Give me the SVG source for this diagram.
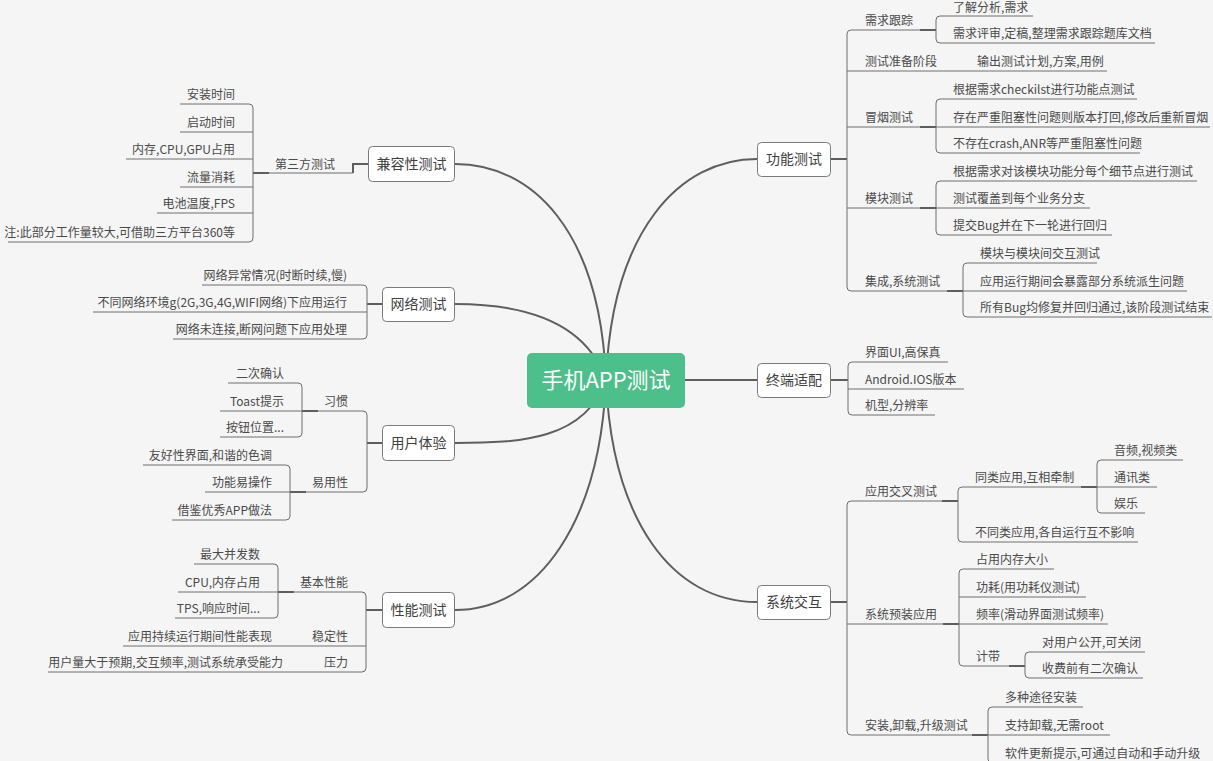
<svg xmlns="http://www.w3.org/2000/svg" width="1213" height="761" viewBox="0 0 1213 761">
<style>
.ln{fill:none;stroke:#6e6e6e;stroke-width:1}
.lk{fill:none;stroke:#5e5e5e;stroke-width:2}
.cv{fill:none;stroke:#5e5e5e;stroke-width:2}
.box{fill:#ffffff;stroke:#7a7a7a;stroke-width:1}
text{font-family:"Noto Sans CJK SC","Microsoft YaHei",sans-serif;font-size:12px;fill:#4a4a4a}
.tm{font-size:14px;text-anchor:middle;fill:#404040}
.r{text-anchor:end}
.root{font-size:22px;fill:#ffffff;text-anchor:middle}
</style>
<rect x="0" y="0" width="1213" height="761" fill="#f5f5f5"/>
<g id="connectors">
<path class="cv" d="M606,380 C612,230 680,159 757,159"/>
<path class="cv" d="M606,380 C600,230 532,164 455,164"/>
<path class="cv" d="M606,380 C585,320 520,304 455,304"/>
<path class="cv" d="M606,380 C585,440 520,443 455,443"/>
<path class="cv" d="M606,380 C600,520 540,610 455,610"/>
<path class="cv" d="M606,380 C612,520 672,602 757,602"/>
<path class="cv" d="M685,380 H757"/>
<!-- 功能测试 -->
<path class="lk" d="M830,159 H847"/>
<path class="ln" d="M936,30 H851 Q847,30 847,34 V287 Q847,291 851,291 H963 M847,71 H1107 M847,127 H936 M847,208 H936"/>
<path class="lk" d="M920,30 H936 M920,127 H936 M920,208 H936 M947,291 H963"/>
<path class="ln" d="M1033,16 H940 Q936,16 936,20 V39 Q936,43 940,43 H1155"/>
<path class="ln" d="M1137,99 H940 Q936,99 936,103 V149 Q936,153 940,153 H1140 M936,127 H1210"/>
<path class="ln" d="M1197,181 H940 Q936,181 936,185 V231 Q936,235 940,235 H1112 M936,208 H1090"/>
<path class="ln" d="M1097,263 H967 Q963,263 963,267 V313 Q963,317 967,317 H1212 M963,291 H1187"/>
<!-- 终端适配 -->
<path class="lk" d="M831,380 H848"/>
<path class="ln" d="M948,362 H852 Q848,362 848,366 V411 Q848,415 852,415 H935 M848,389 H964"/>
<!-- 系统交互 -->
<path class="lk" d="M830,602 H847"/>
<path class="ln" d="M958,501 H851 Q847,501 847,505 V731 Q847,735 851,735 H988 M847,624 H959"/>
<path class="lk" d="M942,501 H958 M943,624 H959 M972,735 H988"/>
<path class="ln" d="M1097,487 H962 Q958,487 958,491 V538 Q958,542 962,542 H1138"/>
<path class="lk" d="M1081,487 H1097"/>
<path class="ln" d="M1183,460 H1101 Q1097,460 1097,464 V509 Q1097,513 1101,513 H1145 M1097,487 H1157"/>
<path class="ln" d="M1054,569 H963 Q959,569 959,573 V662 Q959,666 963,666 H1025 M959,597 H1086 M959,624 H1108"/>
<path class="lk" d="M1009,666 H1025"/>
<path class="ln" d="M1145,652 H1029 Q1025,652 1025,656 V674 Q1025,678 1029,678 H1143"/>
<path class="ln" d="M1083,707 H992 Q988,707 988,711 V759 Q988,763 992,763 H1200 M988,735 H1110"/>
<!-- 兼容性测试 -->
<path class="lk" d="M368,164 H353 V173"/>
<path class="ln" d="M353,173 H253"/>
<path class="lk" d="M253,173 H269"/>
<path class="ln" d="M180,104 H249 Q253,104 253,108 V238 Q253,242 249,242 H8 M253,132 H180 M253,159 H126 M253,187 H180 M253,213 H157"/>
<!-- 网络测试 -->
<path class="lk" d="M382,304 H367"/>
<path class="ln" d="M202,285 H363 Q367,285 367,289 V335 Q367,339 363,339 H173 M367,312 H93"/>
<!-- 用户体验 -->
<path class="lk" d="M382,443 H367"/>
<path class="ln" d="M302,411 H363 Q367,411 367,415 V488 Q367,492 363,492 H290"/>
<path class="lk" d="M302,411 H318 M290,492 H306"/>
<path class="ln" d="M228,383 H298 Q302,383 302,387 V433 Q302,437 298,437 H220 M302,411 H220"/>
<path class="ln" d="M143,465 H286 Q290,465 290,469 V516 Q290,520 286,520 H172 M290,492 H205"/>
<!-- 性能测试 -->
<path class="lk" d="M382,610 H366"/>
<path class="ln" d="M278,592 H362 Q366,592 366,596 V668 Q366,672 362,672 H48 M366,646 H123"/>
<path class="lk" d="M278,592 H294"/>
<path class="ln" d="M194,564 H274 Q278,564 278,568 V614 Q278,618 274,618 H175 M278,592 H178"/>
</g>
<g id="n-root"><rect x="527" y="353" width="158" height="55" rx="5" fill="#4cbf8a"/><text class="root" x="606" y="388">手机APP测试</text></g>
<g id="n-gongneng"><rect class="box" x="757.5" y="142.5" width="73" height="34" rx="4"/><text class="tm" x="794" y="164">功能测试</text></g>
<g id="n-zhongduan"><rect class="box" x="757.5" y="363.5" width="73" height="34" rx="4"/><text class="tm" x="794" y="385">终端适配</text></g>
<g id="n-xitong"><rect class="box" x="757.5" y="585.5" width="73" height="34" rx="4"/><text class="tm" x="794" y="607">系统交互</text></g>
<g id="n-jianrong"><rect class="box" x="368.5" y="146.5" width="86" height="35" rx="4"/><text class="tm" x="411.5" y="169">兼容性测试</text></g>
<g id="n-wangluo"><rect class="box" x="382.5" y="287.5" width="72" height="34" rx="4"/><text class="tm" x="418.5" y="309">网络测试</text></g>
<g id="n-yonghu"><rect class="box" x="382.5" y="425.5" width="72" height="35" rx="4"/><text class="tm" x="418.5" y="448">用户体验</text></g>
<g id="n-xingneng"><rect class="box" x="382.5" y="592.5" width="72" height="35" rx="4"/><text class="tm" x="418.5" y="615">性能测试</text></g>
<g id="n-xuqiu"><text x="865" y="25">需求跟踪</text></g>
<g id="n-xuqiu-1"><text x="953" y="12">了解分析,需求</text></g>
<g id="n-xuqiu-2"><text x="953" y="38">需求评审,定稿,整理需求跟踪题库文档</text></g>
<g id="n-zhunbei"><text x="865" y="66">测试准备阶段</text></g>
<g id="n-zhunbei-1"><text x="977" y="66">输出测试计划,方案,用例</text></g>
<g id="n-maoyan"><text x="865" y="122">冒烟测试</text></g>
<g id="n-maoyan-1"><text x="953" y="94">根据需求checkilst进行功能点测试</text></g>
<g id="n-maoyan-2"><text x="953" y="122">存在严重阻塞性问题则版本打回,修改后重新冒烟</text></g>
<g id="n-maoyan-3"><text x="953" y="148">不存在crash,ANR等严重阻塞性问题</text></g>
<g id="n-mokuai"><text x="865" y="203">模块测试</text></g>
<g id="n-mokuai-1"><text x="953" y="176">根据需求对该模块功能分每个细节点进行测试</text></g>
<g id="n-mokuai-2"><text x="953" y="203">测试覆盖到每个业务分支</text></g>
<g id="n-mokuai-3"><text x="953" y="230">提交Bug并在下一轮进行回归</text></g>
<g id="n-jicheng"><text x="865" y="286">集成,系统测试</text></g>
<g id="n-jicheng-1"><text x="980" y="258">模块与模块间交互测试</text></g>
<g id="n-jicheng-2"><text x="980" y="286">应用运行期间会暴露部分系统派生问题</text></g>
<g id="n-jicheng-3"><text x="980" y="312">所有Bug均修复并回归通过,该阶段测试结束</text></g>
<g id="n-zd-1"><text x="865" y="357">界面UI,高保真</text></g>
<g id="n-zd-2"><text x="865" y="384">Android.IOS版本</text></g>
<g id="n-zd-3"><text x="865" y="410">机型,分辨率</text></g>
<g id="n-jiaocha"><text x="865" y="496">应用交叉测试</text></g>
<g id="n-tonglei"><text x="975" y="482">同类应用,互相牵制</text></g>
<g id="n-tonglei-1"><text x="1114" y="455">音频,视频类</text></g>
<g id="n-tonglei-2"><text x="1114" y="482">通讯类</text></g>
<g id="n-tonglei-3"><text x="1114" y="508">娱乐</text></g>
<g id="n-butonglei"><text x="975" y="537">不同类应用,各自运行互不影响</text></g>
<g id="n-yuzhuang"><text x="865" y="619">系统预装应用</text></g>
<g id="n-yz-1"><text x="976" y="564">占用内存大小</text></g>
<g id="n-yz-2"><text x="976" y="592">功耗(用功耗仪测试)</text></g>
<g id="n-yz-3"><text x="976" y="619">频率(滑动界面测试频率)</text></g>
<g id="n-jidai"><text x="976" y="661">计带</text></g>
<g id="n-jidai-1"><text x="1042" y="647">对用户公开,可关闭</text></g>
<g id="n-jidai-2"><text x="1042" y="673">收费前有二次确认</text></g>
<g id="n-anzhuang"><text x="865" y="730">安装,卸载,升级测试</text></g>
<g id="n-az-1"><text x="1005" y="702">多种途径安装</text></g>
<g id="n-az-2"><text x="1005" y="730">支持卸载,无需root</text></g>
<g id="n-az-3"><text x="1005" y="758">软件更新提示,可通过自动和手动升级</text></g>
<g id="n-disanfang"><text class="r" x="335" y="169">第三方测试</text></g>
<g id="n-dsf-1"><text class="r" x="235" y="99">安装时间</text></g>
<g id="n-dsf-2"><text class="r" x="235" y="127">启动时间</text></g>
<g id="n-dsf-3"><text class="r" x="235" y="154">内存,CPU,GPU占用</text></g>
<g id="n-dsf-4"><text class="r" x="235" y="182">流量消耗</text></g>
<g id="n-dsf-5"><text class="r" x="235" y="208">电池温度,FPS</text></g>
<g id="n-dsf-6"><text class="r" x="235" y="237">注:此部分工作量较大,可借助三方平台360等</text></g>
<g id="n-wl-1"><text class="r" x="347" y="280">网络异常情况(时断时续,慢)</text></g>
<g id="n-wl-2"><text class="r" x="347" y="307">不同网络环境g(2G,3G,4G,WIFI网络)下应用运行</text></g>
<g id="n-wl-3"><text class="r" x="347" y="334">网络未连接,断网问题下应用处理</text></g>
<g id="n-xiguan"><text class="r" x="348" y="406">习惯</text></g>
<g id="n-xg-1"><text class="r" x="284" y="378">二次确认</text></g>
<g id="n-xg-2"><text class="r" x="284" y="406">Toast提示</text></g>
<g id="n-xg-3"><text class="r" x="284" y="432">按钮位置...</text></g>
<g id="n-yiyong"><text class="r" x="348" y="487">易用性</text></g>
<g id="n-yy-1"><text class="r" x="272" y="460">友好性界面,和谐的色调</text></g>
<g id="n-yy-2"><text class="r" x="272" y="487">功能易操作</text></g>
<g id="n-yy-3"><text class="r" x="272" y="515">借鉴优秀APP做法</text></g>
<g id="n-jiben"><text class="r" x="348" y="587">基本性能</text></g>
<g id="n-jb-1"><text class="r" x="260" y="559">最大并发数</text></g>
<g id="n-jb-2"><text class="r" x="260" y="587">CPU,内存占用</text></g>
<g id="n-jb-3"><text class="r" x="260" y="613">TPS,响应时间...</text></g>
<g id="n-wending"><text class="r" x="348" y="641">稳定性</text></g>
<g id="n-wd-1"><text class="r" x="272" y="641">应用持续运行期间性能表现</text></g>
<g id="n-yali"><text class="r" x="348" y="667">压力</text></g>
<g id="n-yl-1"><text class="r" x="283" y="667">用户量大于预期,交互频率,测试系统承受能力</text></g>
</svg>
